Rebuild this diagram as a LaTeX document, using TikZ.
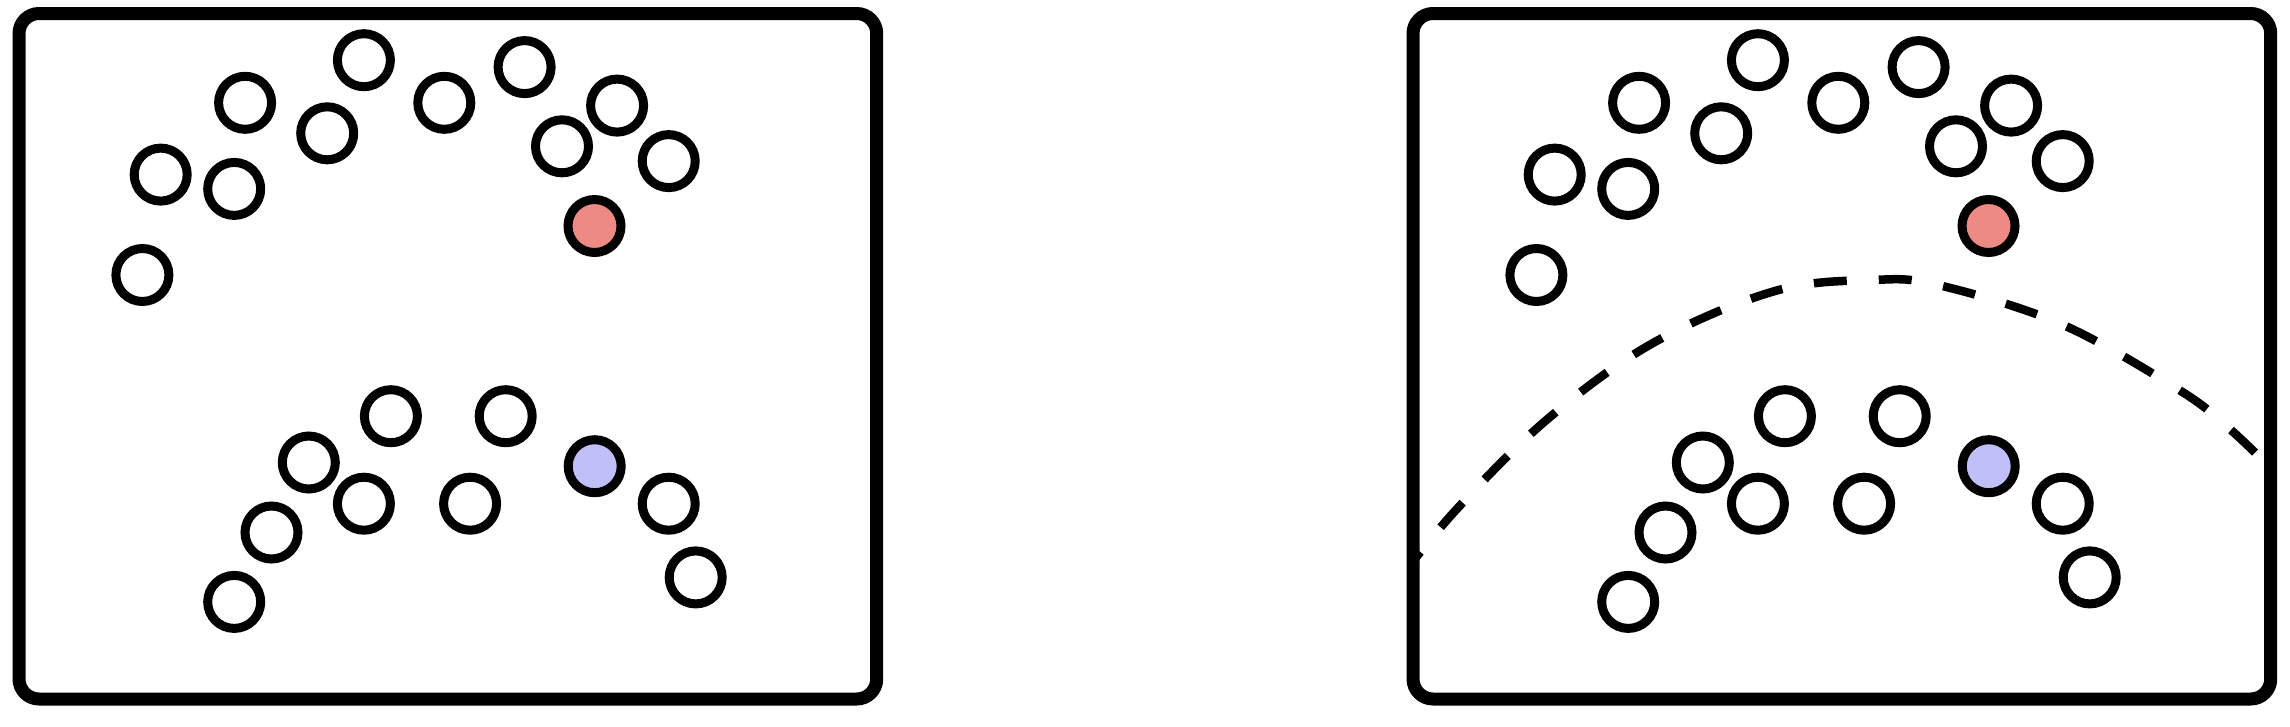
\documentclass[tikz,border=0pt]{standalone}
\definecolor{redfill}{HTML}{EE8A84}
\definecolor{bluefill}{HTML}{C0C0F8}
\begin{document}
\begin{tikzpicture}[x=1pt,y=-1pt,
  dot/.style={circle, draw=black, line width=9pt, minimum size=53pt, inner sep=0pt, fill=white},
  reddot/.style={dot, fill=redfill},
  bluedot/.style={dot, fill=bluefill},
  panel/.style={draw=black, line width=13pt, rounded corners=20pt},
  boundary/.style={draw=black, line width=8.5pt, dash pattern=on 33pt off 32pt}]
\useasboundingbox (0,0) rectangle (2290,726);
\fill[white] (0,0) rectangle (2290,726);
% dashed separating curve in the right panel
\begin{scope}
  \clip[rounded corners=20pt] (1413,13.5) rectangle (2270.5,699);
  \draw[boundary] plot[smooth, tension=0.6] coordinates {(1400,578) (1456.8,509) (1547.6,419) (1653.7,342.6) (1775,291) (1872,280) (1938,285) (2061,324) (2177.6,389) (2228.7,428) (2285,482)};
\end{scope}
\foreach \sx/\p in {0/L,1394/R} {
  \draw[panel] (19+\sx,13.5) rectangle (876.7+\sx,699);
  \foreach \x/\y [count=\i] in {363.9/60.2, 524.6/67.1, 245.1/102.8, 444.3/102.8, 617.1/105.6, 327.2/133.3, 562/146.3, 160.7/174.6, 234.2/188.9, 668.7/161.1, 142.4/275}
    \node[dot] (\p top\i) at (\x+\sx,\y) {};
  \node[reddot] (\p red) at (594.5+\sx,226) {};
  \foreach \x/\y [count=\i] in {390.9/416.2, 505.7/416.2, 308.8/462.5, 363.9/503.7, 470.1/503.7, 668.7/503.7, 271.5/532.5, 695.7/577.4, 234.2/601.9}
    \node[dot] (\p bot\i) at (\x+\sx,\y) {};
  \node[bluedot] (\p blue) at (594.7+\sx,466.2) {};
}
\end{tikzpicture}
\end{document}
